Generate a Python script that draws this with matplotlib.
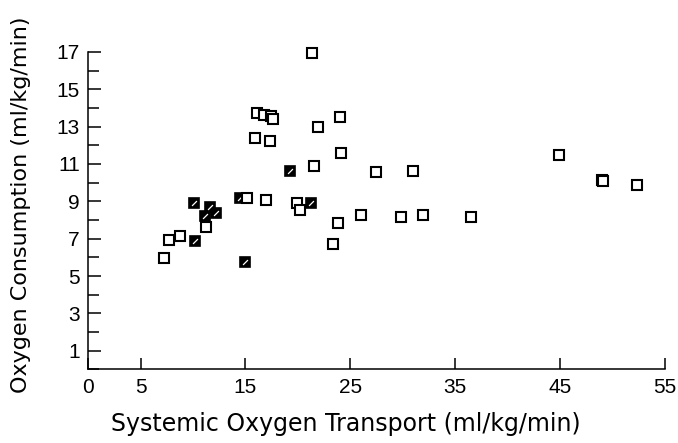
import numpy as np
import matplotlib.pyplot as plt
from matplotlib.ticker import MultipleLocator

# open squares
open_x = [7.2, 7.7, 8.8, 11.2, 15.1, 17.0, 19.9, 20.2, 23.8, 23.3, 26.0,
          21.3, 16.1, 16.8, 17.4, 17.6, 21.9, 24.0, 15.9, 17.3, 24.1, 21.5,
          27.4, 31.0, 29.8, 31.9, 36.5, 44.9, 49.0, 49.1, 52.3]
open_y = [5.96, 6.94, 7.14, 7.62, 9.16, 9.09, 8.92, 8.54, 7.83, 6.73, 8.26,
          16.92, 13.7, 13.62, 13.58, 13.39, 13.0, 13.52, 12.38, 12.24, 11.56, 10.87,
          10.55, 10.64, 8.15, 8.28, 8.15, 11.48, 10.15, 10.1, 9.89]
# filled (hatched) squares
fill_x = [10.1, 11.6, 12.2, 11.1, 10.2, 15.0, 14.5, 21.2, 19.2]
fill_y = [8.9, 8.72, 8.38, 8.2, 6.9, 5.75, 9.16, 8.9, 10.6]

x_ticks = [0, 5, 15, 25, 35, 45, 55]
y_ticks = [1, 3, 5, 7, 9, 11, 13, 15, 17]

plt.rcParams['font.family'] = ['Liberation Sans', 'DejaVu Sans']

fig = plt.figure(figsize=(6.78, 4.43), dpi=100)
ax = fig.add_axes([0.130, 0.166, 0.851, 0.717])

ax.plot(fill_x, fill_y, "s", ms=7.5, mfc="black", mec="black", mew=1.2,
        zorder=3, clip_on=False)
ax.plot(fill_x, fill_y, marker=[(-1, -1), (1, 1)], ls="none", ms=3.5,
        mec="white", mew=0.9, zorder=4, clip_on=False)
ax.plot(open_x, open_y, "s", ms=7.5, mfc="white", mec="black", mew=1.5,
        zorder=5, clip_on=False)

ax.set_xlim(0, 55)
ax.set_ylim(0, 17)
ax.set_xticks(x_ticks)
ax.set_yticks(y_ticks)
ax.yaxis.set_minor_locator(MultipleLocator(1))
ax.tick_params(axis="both", which="both", direction="in", width=1.1,
               labelsize=15, pad=6)
ax.tick_params(axis="y", which="major", length=9)
ax.tick_params(axis="y", which="minor", length=8)
ax.tick_params(axis="x", which="major", length=8)
for s in ["top", "right"]:
    ax.spines[s].set_visible(False)
for s in ["left", "bottom"]:
    ax.spines[s].set_linewidth(1.1)

ax.set_xlabel("Systemic Oxygen Transport (ml/kg/min)", fontsize=17,
              family="DejaVu Sans")
ax.set_ylabel("Oxygen Consumption (ml/kg/min)", fontsize=16,
              family="DejaVu Sans")
ax.xaxis.set_label_coords(0.447, -0.135)
ax.yaxis.set_label_coords(-0.099, 0.518)

fig.savefig("out.png", dpi=100)
